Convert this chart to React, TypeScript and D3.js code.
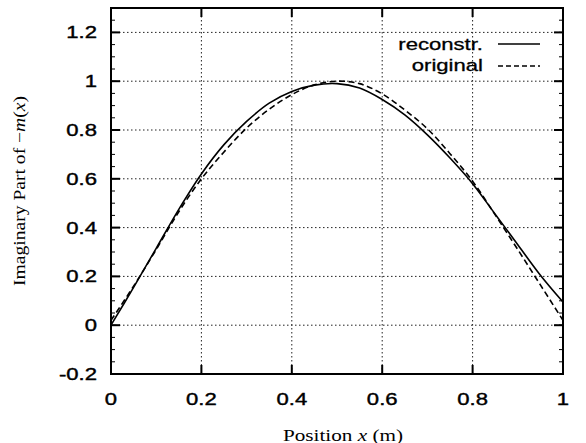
import React from "react";
import * as d3 from "d3";

const xs = [0, 0.05, 0.1, 0.15, 0.2, 0.25, 0.3, 0.35, 0.4, 0.45, 0.5, 0.55, 0.6, 0.65, 0.7, 0.75, 0.8, 0.85, 0.9, 0.95, 1.0];
const reconstr = [0.0, 0.155, 0.315, 0.475, 0.62, 0.74, 0.835, 0.91, 0.958, 0.984, 0.99, 0.972, 0.925, 0.862, 0.78, 0.685, 0.58, 0.455, 0.33, 0.205, 0.095];
const original = [0.02, 0.16, 0.31, 0.465, 0.6, 0.71, 0.808, 0.885, 0.945, 0.985, 1.0, 0.99, 0.948, 0.882, 0.805, 0.703, 0.59, 0.452, 0.31, 0.165, 0.02];
const xTicks = [0, 0.2, 0.4, 0.6, 0.8, 1];
const yTicks = [-0.2, 0, 0.2, 0.4, 0.6, 0.8, 1, 1.2];
const xTickLabels = ["0", "0.2", "0.4", "0.6", "0.8", "1"];
const yTickLabels = ["-0.2", "0", "0.2", "0.4", "0.6", "0.8", "1", "1.2"];
const legendLabels = ["reconstr.", "original"];

const W = 586, H = 443;
const L = 111, R = 563, T = 8, B = 374;
const SX = 1.3;
const sans = "'Liberation Sans', Arial, Helvetica, sans-serif";
const serif = "'Liberation Serif', 'Times New Roman', serif";

export default function App() {
  const x = d3.scaleLinear().domain([0, 1]).range([L, R]);
  const y = d3.scaleLinear().domain([-0.2, 1.3]).range([B, T]);
  const line = d3.line<number>()
    .x((_, i) => x(xs[i]))
    .y((d) => y(d))
    .curve(d3.curveCatmullRom.alpha(0.5));
  const minorY = d3.range(-0.2, 1.3001, 0.05);
  return (
    <svg width={W} height={H} style={{ position: "absolute", left: 0, top: 0, background: "#fff" }}>
      <rect x={0} y={0} width={W} height={H} fill="#fff" />
      {/* grid */}
      {xTicks.slice(1, -1).map((t) => (
        <line key={"gx" + t} x1={x(t)} x2={x(t)} y1={T} y2={B} stroke="#222" strokeWidth={1} strokeDasharray="1.5,2.5" />
      ))}
      {yTicks.slice(1).map((t) => (
        <line key={"gy" + t} x1={L} x2={R} y1={y(t)} y2={y(t)} stroke="#222" strokeWidth={1} strokeDasharray="1.5,2.5" />
      ))}
      {/* minor ticks */}
      {minorY.map((t, i) => (
        <g key={"my" + i}>
          <line x1={L} x2={L + 4} y1={y(t)} y2={y(t)} stroke="#000" strokeWidth={1} />
          <line x1={R} x2={R - 4} y1={y(t)} y2={y(t)} stroke="#000" strokeWidth={1} />
        </g>
      ))}
      {/* major ticks */}
      {yTicks.map((t) => (
        <g key={"ty" + t}>
          <line x1={L} x2={L + 9} y1={y(t)} y2={y(t)} stroke="#000" strokeWidth={2} />
          <line x1={R} x2={R - 9} y1={y(t)} y2={y(t)} stroke="#000" strokeWidth={2} />
        </g>
      ))}
      {xTicks.map((t) => (
        <g key={"tx" + t}>
          <line x1={x(t)} x2={x(t)} y1={B} y2={B - 9} stroke="#000" strokeWidth={2} />
          <line x1={x(t)} x2={x(t)} y1={T} y2={T + 9} stroke="#000" strokeWidth={2} />
        </g>
      ))}
      {/* frame */}
      <rect x={L} y={T} width={R - L} height={B - T} fill="none" stroke="#000" strokeWidth={2} />
      {/* curves */}
      <path d={line(reconstr) || ""} fill="none" stroke="#000" strokeWidth={1.6} />
      <path d={line(original) || ""} fill="none" stroke="#000" strokeWidth={1.6} strokeDasharray="6,3.5" />
      {/* y tick labels */}
      {yTicks.map((t, i) => (
        <g key={"yl" + t} transform={`translate(97,${y(t) + 6}) scale(${SX},1)`}>
          <text x={0} y={0} textAnchor="end" fontFamily={sans} fontSize={17} fill="#000" stroke="#000" strokeWidth={0.4}>{yTickLabels[i]}</text>
        </g>
      ))}
      {/* x tick labels */}
      {xTicks.map((t, i) => (
        <g key={"xl" + t} transform={`translate(${x(t)},${405}) scale(${SX},1)`}>
          <text x={0} y={0} textAnchor="middle" fontFamily={sans} fontSize={17} fill="#000" stroke="#000" strokeWidth={0.4}>{xTickLabels[i]}</text>
        </g>
      ))}
      {/* legend */}
      {legendLabels.map((lab, i) => (
        <g key={"lg" + i}>
          <g transform={`translate(483,${50 + i * 21}) scale(${SX},1)`}>
            <text x={0} y={0} textAnchor="end" fontFamily={sans} fontSize={17} fill="#000" stroke="#000" strokeWidth={0.3}>{lab}</text>
          </g>
          <line x1={498} x2={540} y1={44 + i * 22} y2={44 + i * 22} stroke="#000" strokeWidth={1.6} strokeDasharray={i === 1 ? "5,3" : undefined} />
        </g>
      ))}
      {/* axis titles */}
      <text x={343} y={441} textAnchor="middle" fontFamily={serif} fontSize={16} fill="#000" textLength={120} lengthAdjust="spacingAndGlyphs">
        Position <tspan fontStyle="italic">x</tspan> (m)
      </text>
      <text transform={`translate(25,${(T + B) / 2}) rotate(-90)`} textAnchor="middle" fontFamily={serif} fontSize={16} fill="#000" textLength={190} lengthAdjust="spacingAndGlyphs">
        Imaginary Part of −<tspan fontStyle="italic">m</tspan>(<tspan fontStyle="italic">x</tspan>)
      </text>
    </svg>
  );
}
